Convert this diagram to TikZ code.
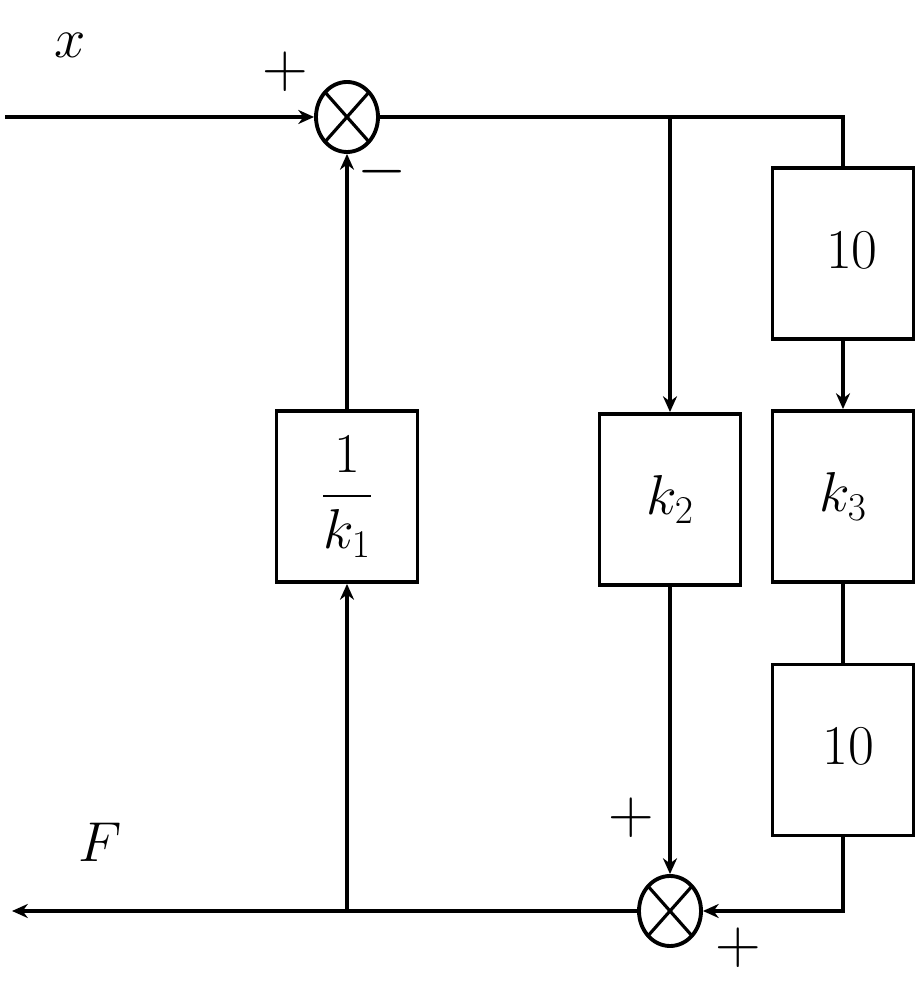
\RequirePackage{fix-cm}
\documentclass[tikz,border=0pt]{standalone}
\usepackage{amsmath}
\usepackage{tikz}
\usetikzlibrary{arrows.meta, positioning, shapes.geometric}

\tikzset{
  block/.style={draw, line width=2.2pt, minimum width=2.82cm, minimum height=3.42cm, inner sep=0pt},
  sumnode/.style={draw, ellipse, line width=2.2pt, minimum width=1.24cm, minimum height=1.40cm, inner sep=0pt,
    path picture={\draw[line width=1.8pt] (path picture bounding box.north west) -- (path picture bounding box.south east)
      (path picture bounding box.north east) -- (path picture bounding box.south west);}},
  signal/.style={inner sep=0pt},
  sign/.style={inner sep=0pt, font=\fontsize{36}{42}\selectfont},
}

\begin{document}
\begin{tikzpicture}[>={Stealth[length=9pt,width=8pt]}, line width=2.2pt,
  font=\fontsize{32}{38}\selectfont]

  \useasboundingbox (0,0) rectangle (18.30,19.74);

  % --- summing junctions ---
  \node[sumnode] (S1) at (6.94,17.40) {};
  \node[sumnode] (S2) at (13.40,1.52) {};

  % --- blocks ---
  \node[block] (k1)   at (6.94,9.81)  {$\dfrac{1}{k_1}$};
  \node[block] (k2)   at (13.40,9.75) {$k_2$};
  \node[block] (ten1) at (16.86,14.67) {\raisebox{4pt}{\hspace{10pt}$10$}};
  \node[block] (k3)   at (16.86,9.81) {$k_3$\hspace{6pt}};
  \node[block] (ten2) at (16.86,4.74) {\raisebox{4pt}{\hspace{6pt}$10$}};

  % --- free ends and branch points ---
  \coordinate (in)  at (0.10,17.40);
  \coordinate (out) at (0.24,1.52);
  \coordinate (br1) at (13.40,17.40);
  \coordinate (br2) at (6.94,1.52);

  % --- forward path ---
  \draw[->] (in) -- (S1.west);
  \draw (S1.east) -| (ten1.north);
  \draw[->] (br1) -- (k2.north);
  \draw[->] (ten1.south) -- (k3.north);
  \draw (k3.south) -- (ten2.north);
  \draw[->] (ten2.south) |- (S2.east);
  \draw[->] (k2.south) -- (S2.north);

  % --- output and feedback ---
  \draw[->] (S2.west) -- (out);
  \draw[->] (br2) -- (k1.south);
  \draw[->] (k1.north) -- (S1.south);

  % --- signals and signs ---
  \node[signal] (lx) at (1.40,18.84) {$x$};
  \node[signal] (lF) at (2.00,2.90) {$F$};
  \node[sign] (p1) at (5.70,18.30) {$+$};
  \node[sign] (m1) at (7.64,16.30) {$-$};
  \node[sign] (p2) at (12.62,3.38) {$+$};
  \node[sign] (p3) at (14.76,0.78) {$+$};

\end{tikzpicture}
\end{document}
